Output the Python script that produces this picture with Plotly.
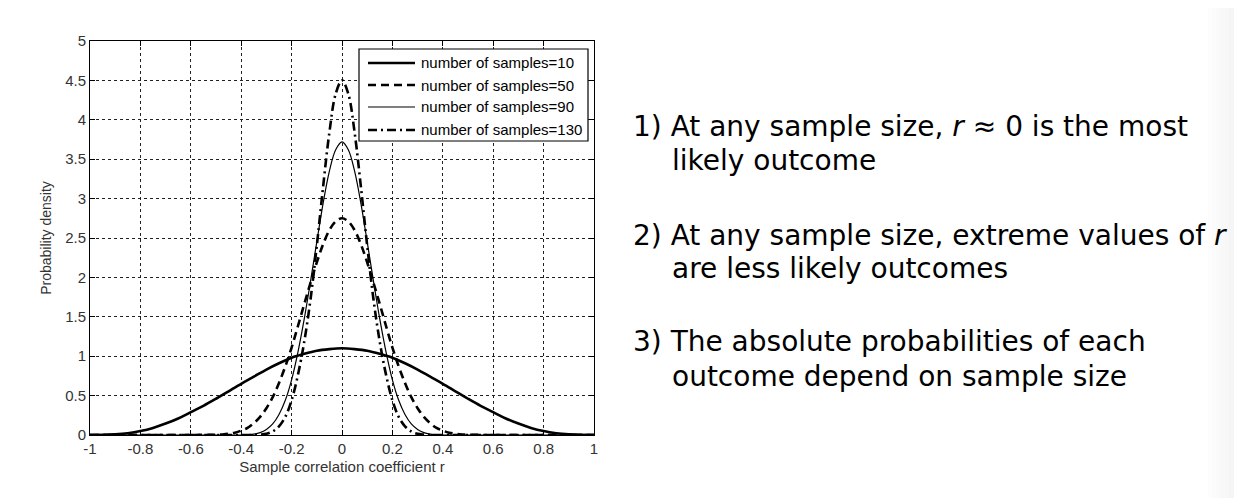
import plotly.graph_objects as go

# values
r_wide = [-1.0, -0.95, -0.9, -0.85, -0.8, -0.75, -0.7, -0.65, -0.6, -0.55, -0.5,
          -0.45, -0.4, -0.35, -0.3, -0.25, -0.2, -0.15, -0.1, -0.05, 0.0,
          0.05, 0.1, 0.15, 0.2, 0.25, 0.3, 0.35, 0.4, 0.45, 0.5,
          0.55, 0.6, 0.65, 0.7, 0.75, 0.8, 0.85, 0.9, 0.95, 1.0]
dens_10 = [0.0, 0.001, 0.008, 0.023, 0.05, 0.09, 0.145, 0.21, 0.29, 0.37, 0.46,
           0.555, 0.65, 0.74, 0.83, 0.91, 0.98, 1.03, 1.07, 1.09, 1.10,
           1.09, 1.07, 1.03, 0.98, 0.91, 0.83, 0.74, 0.65, 0.555, 0.46,
           0.37, 0.29, 0.21, 0.145, 0.09, 0.05, 0.023, 0.008, 0.001, 0.0]

r_narrow = [-1.0, -0.5, -0.475, -0.45, -0.425, -0.4, -0.375, -0.35, -0.325, -0.3, -0.275,
            -0.25, -0.225, -0.2, -0.175, -0.15, -0.125, -0.1, -0.075, -0.05, -0.025, 0.0,
            0.025, 0.05, 0.075, 0.1, 0.125, 0.15, 0.175, 0.2, 0.225, 0.25,
            0.275, 0.3, 0.325, 0.35, 0.375, 0.4, 0.425, 0.45, 0.475, 0.5, 1.0]
dens_50 = [0.0, 0.003, 0.007, 0.015, 0.03, 0.055, 0.09, 0.15, 0.23, 0.34, 0.48,
           0.66, 0.87, 1.11, 1.38, 1.66, 1.93, 2.19, 2.42, 2.60, 2.71, 2.75,
           2.71, 2.60, 2.42, 2.19, 1.93, 1.66, 1.38, 1.11, 0.87, 0.66,
           0.48, 0.34, 0.23, 0.15, 0.09, 0.055, 0.03, 0.015, 0.007, 0.003, 0.0]
dens_90 = [0.0, 0.0, 0.0, 0.0, 0.0, 0.0, 0.004, 0.012, 0.03, 0.07, 0.14,
           0.26, 0.44, 0.70, 1.05, 1.47, 1.95, 2.45, 2.94, 3.35, 3.62, 3.72,
           3.62, 3.35, 2.94, 2.45, 1.95, 1.47, 1.05, 0.70, 0.44, 0.26,
           0.14, 0.07, 0.03, 0.012, 0.004, 0.0, 0.0, 0.0, 0.0, 0.0, 0.0]
dens_130 = [0.0, 0.0, 0.0, 0.0, 0.0, 0.0, 0.0, 0.0, 0.005, 0.015, 0.045,
            0.11, 0.23, 0.44, 0.76, 1.18, 1.72, 2.40, 3.15, 3.84, 4.33, 4.50,
            4.33, 3.84, 3.15, 2.40, 1.72, 1.18, 0.76, 0.44, 0.23, 0.11,
            0.045, 0.015, 0.005, 0.0, 0.0, 0.0, 0.0, 0.0, 0.0, 0.0, 0.0]

series_names = ["number of samples=10", "number of samples=50",
                "number of samples=90", "number of samples=130"]

x_ticks = [-1, -0.8, -0.6, -0.4, -0.2, 0, 0.2, 0.4, 0.6, 0.8, 1]
x_labels = ["-1", "-0.8", "-0.6", "-0.4", "-0.2", "0", "0.2", "0.4", "0.6", "0.8", "1"]
y_ticks = [0, 0.5, 1, 1.5, 2, 2.5, 3, 3.5, 4, 4.5, 5]
y_labels = ["0", "0.5", "1", "1.5", "2", "2.5", "3", "3.5", "4", "4.5", "5"]

notes = [
    "1) At any sample size, <i>r</i> ≈ 0 is the most",
    "likely outcome",
    "2) At any sample size, extreme values of <i>r</i>",
    "are less likely outcomes",
    "3) The absolute probabilities of each",
    "outcome depend on sample size",
]

W, H = 1242, 498
L, R, T, B = 82, 586, 33, 427


def px(x):
    return (x - L) / (R - L)


def py(y):
    return (B - y) / (B - T)


styles = [
    dict(color="black", width=2.6),
    dict(color="black", width=2.6, dash="8px,5px"),
    dict(color="black", width=1.2),
    dict(color="black", width=2.6, dash="9px,4px,2px,4px"),
]
xs_all = [r_wide, r_narrow, r_narrow, r_narrow]
ys_all = [dens_10, dens_50, dens_90, dens_130]

fig = go.Figure()
for name, xs, ys, st in zip(series_names, xs_all, ys_all, styles):
    fig.add_trace(go.Scatter(x=xs, y=ys, mode="lines", name=name, showlegend=False,
                             line=dict(shape="spline", **st)))

axis_common = dict(
    showline=True, linecolor="black", linewidth=1, mirror="ticks",
    ticks="inside", ticklen=5, tickcolor="black",
    showgrid=True, gridcolor="#222", gridwidth=1, griddash="dot",
    zeroline=False, tickfont=dict(family="Liberation Sans", size=15, color="#333"),
)
fig.update_xaxes(range=[-1, 1], tickvals=x_ticks, ticktext=x_labels,
                 title=dict(text="Sample correlation coefficient r", standoff=5,
                            font=dict(family="Liberation Sans", size=15, color="#333")),
                 **axis_common)
fig.update_yaxes(range=[0, 5], tickvals=y_ticks, ticktext=y_labels,
                 title=dict(text="Probability density", standoff=10,
                            font=dict(family="Liberation Sans", size=14, color="#333")),
                 **axis_common)

# matlab style legend box
fig.add_shape(type="rect", xref="paper", yref="paper", x0=px(351), x1=px(580),
              y0=py(133), y1=py(41), fillcolor="white", line=dict(color="black", width=1.2))
row_y = [55, 77, 99, 122]
for name, st, ry in zip(series_names, styles, row_y):
    fig.add_shape(type="line", xref="paper", yref="paper", x0=px(360), x1=px(407),
                  y0=py(ry), y1=py(ry), line=st)
    fig.add_annotation(x=px(411), y=py(ry), xref="paper", yref="paper", text=name,
                       showarrow=False, xanchor="left", yanchor="middle",
                       font=dict(family="Liberation Sans", size=15, color="black"))

for i, txt in enumerate(notes):
    xs = [623, 662][i % 2]
    ys = [118, 152, 227, 260, 333, 368][i]
    fig.add_annotation(x=px(xs), y=py(ys), xref="paper", yref="paper", text=txt,
                       showarrow=False, xanchor="left", yanchor="middle",
                       font=dict(family="DejaVu Sans", size=28, color="black"))

# light grey fade at the right edge
steps = 10
for k in range(steps):
    g = int(255 - 16 * (k + 1) / steps)
    x0 = 1200 + k * (W - 1200) / steps
    x1 = 1200 + (k + 1) * (W - 1200) / steps + 0.5
    fig.add_shape(type="rect", xref="paper", yref="paper", x0=px(x0), x1=px(x1),
                  y0=py(H + 2), y1=py(-2), fillcolor=f"rgb({g},{g},{g})",
                  line=dict(width=0), layer="below")

fig.update_layout(
    width=W, height=H,
    margin=dict(l=L, r=W - R, t=T, b=H - B),
    paper_bgcolor="white", plot_bgcolor="white",
    showlegend=False,
)

fig.write_html("out.html")
